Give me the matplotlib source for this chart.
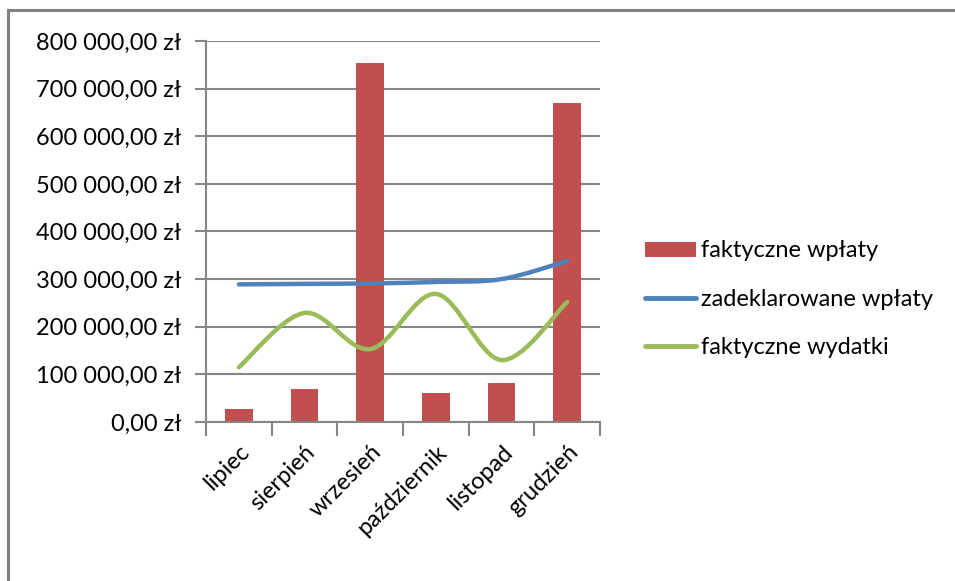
import numpy as np
import matplotlib
matplotlib.use("Agg")
import matplotlib.pyplot as plt
from matplotlib.path import Path
from matplotlib.patches import PathPatch, Rectangle, Patch
from matplotlib.lines import Line2D

plt.rcParams['font.family'] = ['Lato', 'DejaVu Sans']

months = ['lipiec', 'sierpień', 'wrzesień', 'październik', 'listopad', 'grudzień']
wplaty = [27000, 70000, 753000, 61000, 82000, 669000]          # faktyczne wpłaty
zadeklarowane = [289000, 290000, 291000, 294000, 300000, 338000]  # zadeklarowane wpłaty
wydatki = [115000, 229000, 153000, 269000, 130000, 252000]      # faktyczne wydatki
yticks = [0, 100000, 200000, 300000, 400000, 500000, 600000, 700000, 800000]

RED = '#C0504D'
BLUE = '#4F81BD'
GREEN = '#9BBB59'
GRID = '#868686'


def zl(v):
    s = f"{v:,.2f}".replace(',', ' ').replace('.', ',')
    return s + ' zł'


def smooth_path(x, y):
    # excel-like smoothed line (bezier through the points)
    pts = np.column_stack([x, y]).astype(float)
    n = len(pts)
    verts = [pts[0]]
    codes = [Path.MOVETO]
    for i in range(n - 1):
        p0 = pts[max(i - 1, 0)]
        p1 = pts[i]
        p2 = pts[i + 1]
        p3 = pts[min(i + 2, n - 1)]
        c1 = p1 + (p2 - p0) / 6.0
        c2 = p2 - (p3 - p1) / 6.0
        verts += [c1, c2, p2]
        codes += [Path.CURVE4] * 3
    return Path(verts, codes)


fig = plt.figure(figsize=(9.55, 5.81), dpi=100)
ax = fig.add_axes([206 / 955, 1 - 422 / 581, 394 / 955, 381 / 581])

x = np.arange(len(months))
ax.bar(x, wplaty, width=0.42, color=RED, zorder=2)

for vals, col in [(zadeklarowane, BLUE), (wydatki, GREEN)]:
    patch = PathPatch(smooth_path(x, vals), fill=False, edgecolor=col,
                      lw=3.2, capstyle='round', zorder=3)
    ax.add_patch(patch)

ax.set_xlim(-0.5, len(months) - 0.5)
ax.set_ylim(0, 800000)
ax.set_yticks(yticks)
ax.set_yticklabels([zl(v) for v in yticks], fontsize=17)
ax.yaxis.grid(True, color=GRID, lw=1.5, zorder=0)
ax.set_axisbelow(True)

ax.set_xticks(x)
ax.set_xticklabels(months, rotation=45, ha='right', va='top',
                   rotation_mode='anchor', fontsize=17)
ax.set_xticks(np.arange(len(months) + 1) - 0.5, minor=True)
ax.tick_params(axis='x', which='major', length=0, pad=14)
ax.tick_params(axis='x', which='minor', length=10, width=1.5, color=GRID)
ax.tick_params(axis='y', length=8, width=1.5, color=GRID, pad=10)

for s in ['top', 'right']:
    ax.spines[s].set_visible(False)
for s in ['left', 'bottom']:
    ax.spines[s].set_color(GRID)
    ax.spines[s].set_linewidth(1.5)

handles = [Patch(facecolor=RED),
           Line2D([0], [0], color=BLUE, lw=3.5, solid_capstyle='round'),
           Line2D([0], [0], color=GREEN, lw=3.5, solid_capstyle='round')]
labels = ['faktyczne wpłaty', 'zadeklarowane wpłaty', 'faktyczne wydatki']
fig.legend(handles, labels, loc='center left', bbox_to_anchor=(636 / 955, 1 - 299 / 581),
           frameon=False, fontsize=17, handlelength=2.15, handleheight=0.6,
           handletextpad=0.2, labelspacing=1.15, borderaxespad=0)

# outer chart frame (only top and left edges visible)
fig.patches.append(Rectangle((8 / 955, -0.1), 1.2, 1 - 10 / 581 + 0.1,
                             transform=fig.transFigure, fill=False,
                             edgecolor='#808080', lw=2.2))

fig.savefig('out.png', dpi=100)
